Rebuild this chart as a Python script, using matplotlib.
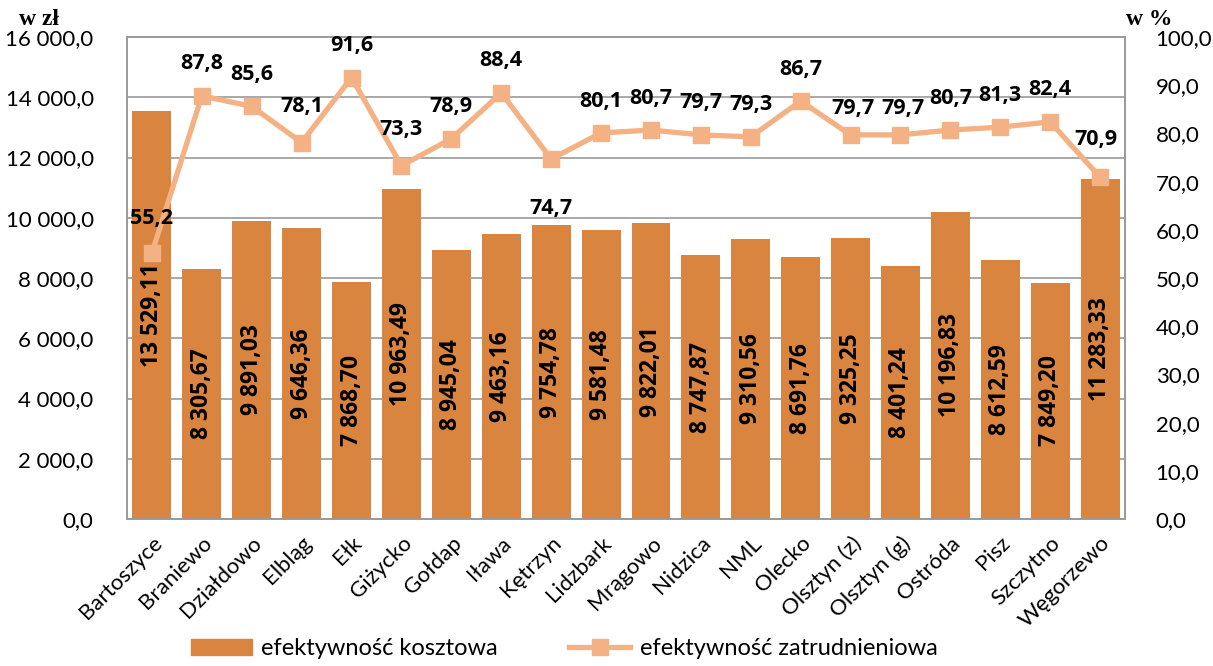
import matplotlib
matplotlib.use('Agg')
import matplotlib.pyplot as plt
from matplotlib.ticker import FuncFormatter, MultipleLocator
from matplotlib.lines import Line2D
from matplotlib.patches import Patch

plt.rcParams['font.family'] = ['Lato', 'DejaVu Sans']
BOLD = ['Open Sans', 'DejaVu Sans']
SERIF = ['Liberation Serif', 'DejaVu Serif']

powiaty = ['Bartoszyce', 'Braniewo', 'Działdowo', 'Elbląg', 'Ełk', 'Giżycko',
           'Gołdap', 'Iława', 'Kętrzyn', 'Lidzbark', 'Mrągowo', 'Nidzica', 'NML',
           'Olecko', 'Olsztyn (z)', 'Olsztyn (g)', 'Ostróda', 'Pisz', 'Szczytno',
           'Węgorzewo']
ef_kosztowa = [13529.11, 8305.67, 9891.03, 9646.36, 7868.70, 10963.49, 8945.04,
               9463.16, 9754.78, 9581.48, 9822.01, 8747.87, 9310.56, 8691.76,
               9325.25, 8401.24, 10196.83, 8612.59, 7849.20, 11283.33]
ef_zatrudn = [55.2, 87.8, 85.6, 78.1, 91.6, 73.3, 78.9, 88.4, 74.7, 80.1, 80.7,
              79.7, 79.3, 86.7, 79.7, 79.7, 80.7, 81.3, 82.4, 70.9]

BAR = '#D9843F'
LINE = '#F4B183'
GRID = '#9a9a9a'


def pl_num(v, dec):
    s = f'{v:,.{dec}f}'
    return s.replace(',', ' ').replace('.', ',')


fig = plt.figure(figsize=(12.13, 6.66), dpi=100)
ax = fig.add_axes([0.1047, 0.2207, 0.8228, 0.7237])
ax2 = ax.twinx()

x = list(range(len(powiaty)))
ax.bar(x, ef_kosztowa, width=0.78, color=BAR, zorder=2)
for xi, v in zip(x, ef_kosztowa):
    ax.text(xi, v / 2, pl_num(v, 2), rotation=90, ha='center', va='center',
            fontsize=16.5, fontweight='bold', family=BOLD, color='black', zorder=3)

ax.set_xlim(-0.5, len(powiaty) - 0.5)
ax.set_ylim(0, 16000)
ax.yaxis.set_major_locator(MultipleLocator(2000))
ax.yaxis.set_major_formatter(FuncFormatter(lambda v, p: pl_num(v, 1)))
ax.grid(axis='y', color=GRID, lw=1.2, zorder=0)
ax.set_axisbelow(True)

ax2.plot(x, ef_zatrudn, color=LINE, lw=3.8, marker='s', markersize=12,
         markerfacecolor=LINE, markeredgecolor=LINE, zorder=4)
ax2.set_ylim(0, 100)
ax2.yaxis.set_major_locator(MultipleLocator(10))
ax2.yaxis.set_major_formatter(FuncFormatter(lambda v, p: pl_num(v, 1)))

# label offsets (points) for the percentage series
offs = {0: (0, 25), 3: (0, 26), 5: (0, 26), 8: (0, -36), 14: (2, 19),
        15: (2, 19), 19: (-3, 27)}
for xi, v in zip(x, ef_zatrudn):
    dx, dy = offs.get(xi, (0, 23))
    ax2.annotate(pl_num(v, 1), (xi, v), xytext=(dx, dy), textcoords='offset points',
                 ha='center', va='center', fontsize=15.5, fontweight='bold',
                 family=BOLD, zorder=5)

ax.set_zorder(1)
ax2.set_zorder(2)
ax.patch.set_visible(False)

for a in (ax, ax2):
    for sp in a.spines.values():
        sp.set_color(GRID)
        sp.set_linewidth(1.2)
    a.tick_params(length=0, labelsize=16)
ax.tick_params(axis='y', pad=24)
ax2.tick_params(axis='y', pad=22)
ax.set_xticks(x)
ax.set_xticklabels(powiaty, rotation=45, ha='right', rotation_mode='anchor', fontsize=16)
ax.tick_params(axis='x', pad=10)

fig.text(0.016, 0.962, 'w zł', family=SERIF, fontweight='bold', fontsize=17)
fig.text(0.928, 0.962, 'w %', family=SERIF, fontweight='bold', fontsize=17)

handles = [Patch(color=BAR, label='efektywność kosztowa'),
           Line2D([0], [0], color=LINE, lw=3.8, marker='s', markersize=12,
                  label='efektywność zatrudnieniowa')]
fig.legend(handles=handles, loc='center', bbox_to_anchor=(0.465, 0.026), ncol=2,
           frameon=False, fontsize=17, handlelength=2.6, handletextpad=0.4,
           columnspacing=3)

fig.savefig('out.png', dpi=100)
